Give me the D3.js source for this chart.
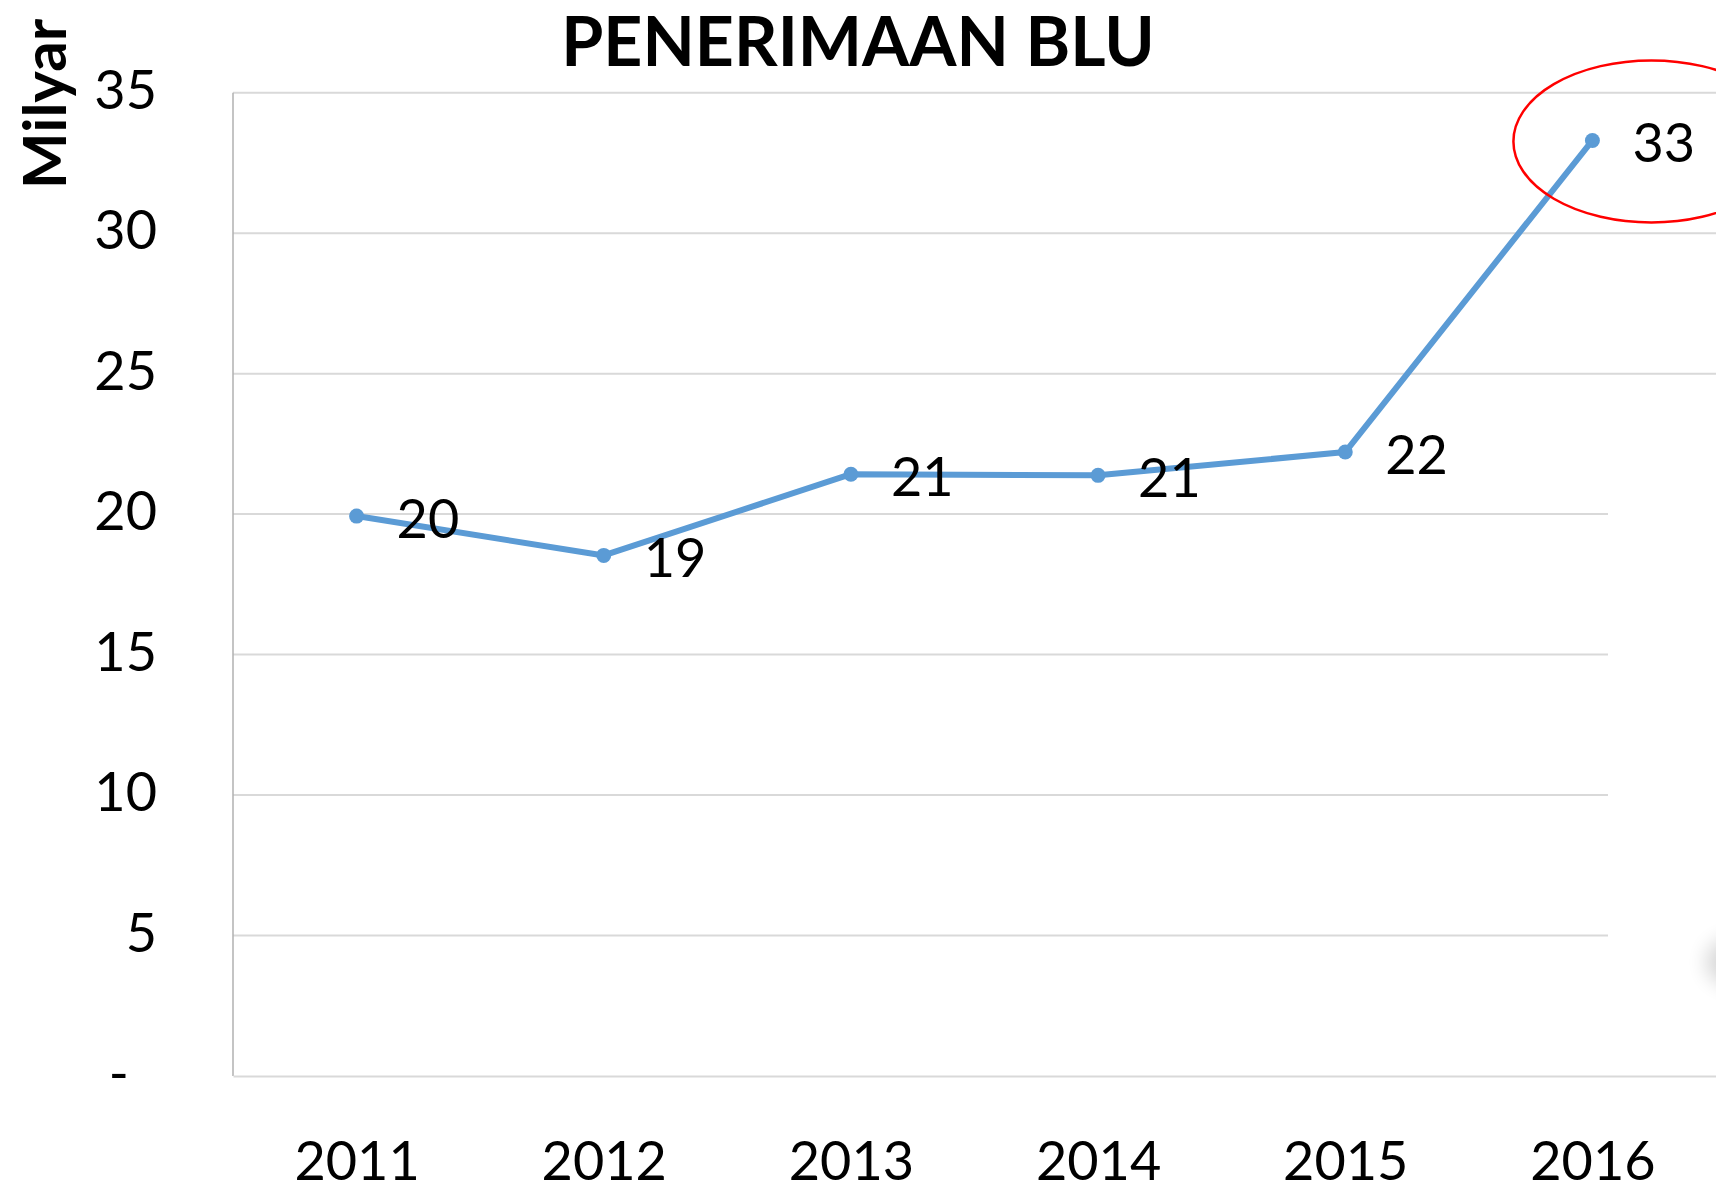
<html lang="id">
<head>
    <title>Penerimaan BLU</title>
    <meta charset="utf-8">
    <style>
        body {
            margin: 0;
            background: #fff;
        }

        svg {
            display: block;
            font-family: Lato, "Open Sans", sans-serif;
        }

        .grid line {
            stroke: #d9d9d9;
            stroke-width: 2;
        }

        .tick text {
            fill: #000;
            font-size: 54px;
        }

        .title {
            font-size: 68px;
            font-weight: 700;
        }

        .y-title {
            font-size: 60px;
            font-weight: 700;
        }

        .series {
            fill: none;
            stroke: #5b9bd5;
            stroke-width: 6;
            stroke-linejoin: round;
        }

        .dot {
            fill: #5b9bd5;
        }

        .value-label {
            font-size: 54px;
            fill: #000;
        }

        .highlight {
            fill: none;
            stroke: #ff0000;
            stroke-width: 2.5;
        }
    </style>
</head>
<body>
<svg id="chart" width="1716" height="1196"></svg>
<script src="https://d3js.org/d3.v7.min.js"></script>
<script>
    const chartTitle = "PENERIMAAN BLU";
    const yTitle = "Milyar";
    const years = ["2011", "2012", "2013", "2014", "2015", "2016"];
    const values = [19.93, 18.53, 21.42, 21.38, 22.21, 33.30];
    const valueLabels = ["20", "19", "21", "21", "22", "33"];
    const yTicks = [0, 5, 10, 15, 20, 25, 30, 35];
    const highlightYear = "2016";

    const svg = d3.select("#chart");
    const width = +svg.attr("width");
    const plotLeft = 233, plotTop = 92.7, plotBottom = 1076;

    const x = d3.scalePoint().domain(years).range([plotLeft, width]).padding(0.5);
    const y = d3.scaleLinear().domain([0, 35]).range([plotBottom, plotTop]);

    // horizontal gridlines
    svg.append("g").attr("class", "grid")
        .selectAll("line")
        .data(yTicks.filter(d => d > 0))
        .join("line")
        .attr("x1", plotLeft).attr("x2", width)
        .attr("y1", d => y(d)).attr("y2", d => y(d));

    // white box over the right edge, with a soft shadow peeking out
    const defs = svg.append("defs");
    defs.append("filter").attr("id", "blur")
        .attr("x", "-100%").attr("y", "-100%").attr("width", "300%").attr("height", "300%")
        .append("feGaussianBlur").attr("stdDeviation", 10);
    svg.append("rect")
        .attr("x", 1608).attr("y", 420).attr("width", width - 1608).attr("height", 640)
        .attr("fill", "#fff");
    svg.append("ellipse")
        .attr("cx", width + 18).attr("cy", 962).attr("rx", 28).attr("ry", 24)
        .attr("fill", "#000").attr("opacity", 0.16).attr("filter", "url(#blur)");

    // y axis
    const yAxis = svg.append("g")
        .attr("transform", `translate(${plotLeft},0)`)
        .call(d3.axisLeft(y).tickValues(yTicks).tickSize(0).tickPadding(76)
            .tickFormat(d => d === 0 ? "-" : d));
    yAxis.attr("font-family", null).attr("font-size", null);
    yAxis.select(".domain").remove();
    yAxis.selectAll(".tick text")
        .attr("dy", "0.29em")
        .attr("dx", d => d === 0 ? "-0.52em" : 0);

    svg.append("line")
        .attr("x1", plotLeft).attr("x2", plotLeft)
        .attr("y1", plotTop).attr("y2", plotBottom)
        .attr("stroke", "#b0b0b0").attr("stroke-width", 1.5);

    // x axis
    const xAxis = svg.append("g")
        .attr("transform", `translate(0,${plotBottom})`)
        .call(d3.axisBottom(x).tickSize(0).tickSizeOuter(0));
    xAxis.attr("font-family", null).attr("font-size", null);
    xAxis.select(".domain").attr("stroke", "#d9d9d9").attr("stroke-width", 2);
    xAxis.selectAll(".tick text").attr("y", 104).attr("dy", 0);

    // series
    svg.append("path")
        .datum(values)
        .attr("class", "series")
        .attr("d", d3.line().x((d, i) => x(years[i])).y(d => y(d)));

    svg.append("g").selectAll("circle")
        .data(values)
        .join("circle")
        .attr("class", "dot")
        .attr("cx", (d, i) => x(years[i]))
        .attr("cy", d => y(d))
        .attr("r", 7.5);

    svg.append("g").selectAll("text")
        .data(values)
        .join("text")
        .attr("class", "value-label")
        .attr("x", (d, i) => x(years[i]) + 40)
        .attr("y", d => y(d) + 22)
        .text((d, i) => valueLabels[i]);

    // red circle around the last value
    const hi = years.indexOf(highlightYear);
    svg.append("ellipse")
        .attr("class", "highlight")
        .attr("cx", x(highlightYear) + 59)
        .attr("cy", y(values[hi]) + 1)
        .attr("rx", 138).attr("ry", 81);

    // titles
    svg.append("text")
        .attr("class", "title")
        .attr("x", 858).attr("y", 66)
        .attr("text-anchor", "middle")
        .text(chartTitle);

    svg.append("text")
        .attr("class", "y-title")
        .attr("transform", "translate(66,104) rotate(-90)")
        .attr("text-anchor", "middle")
        .text(yTitle);
</script>
</body>
</html>
